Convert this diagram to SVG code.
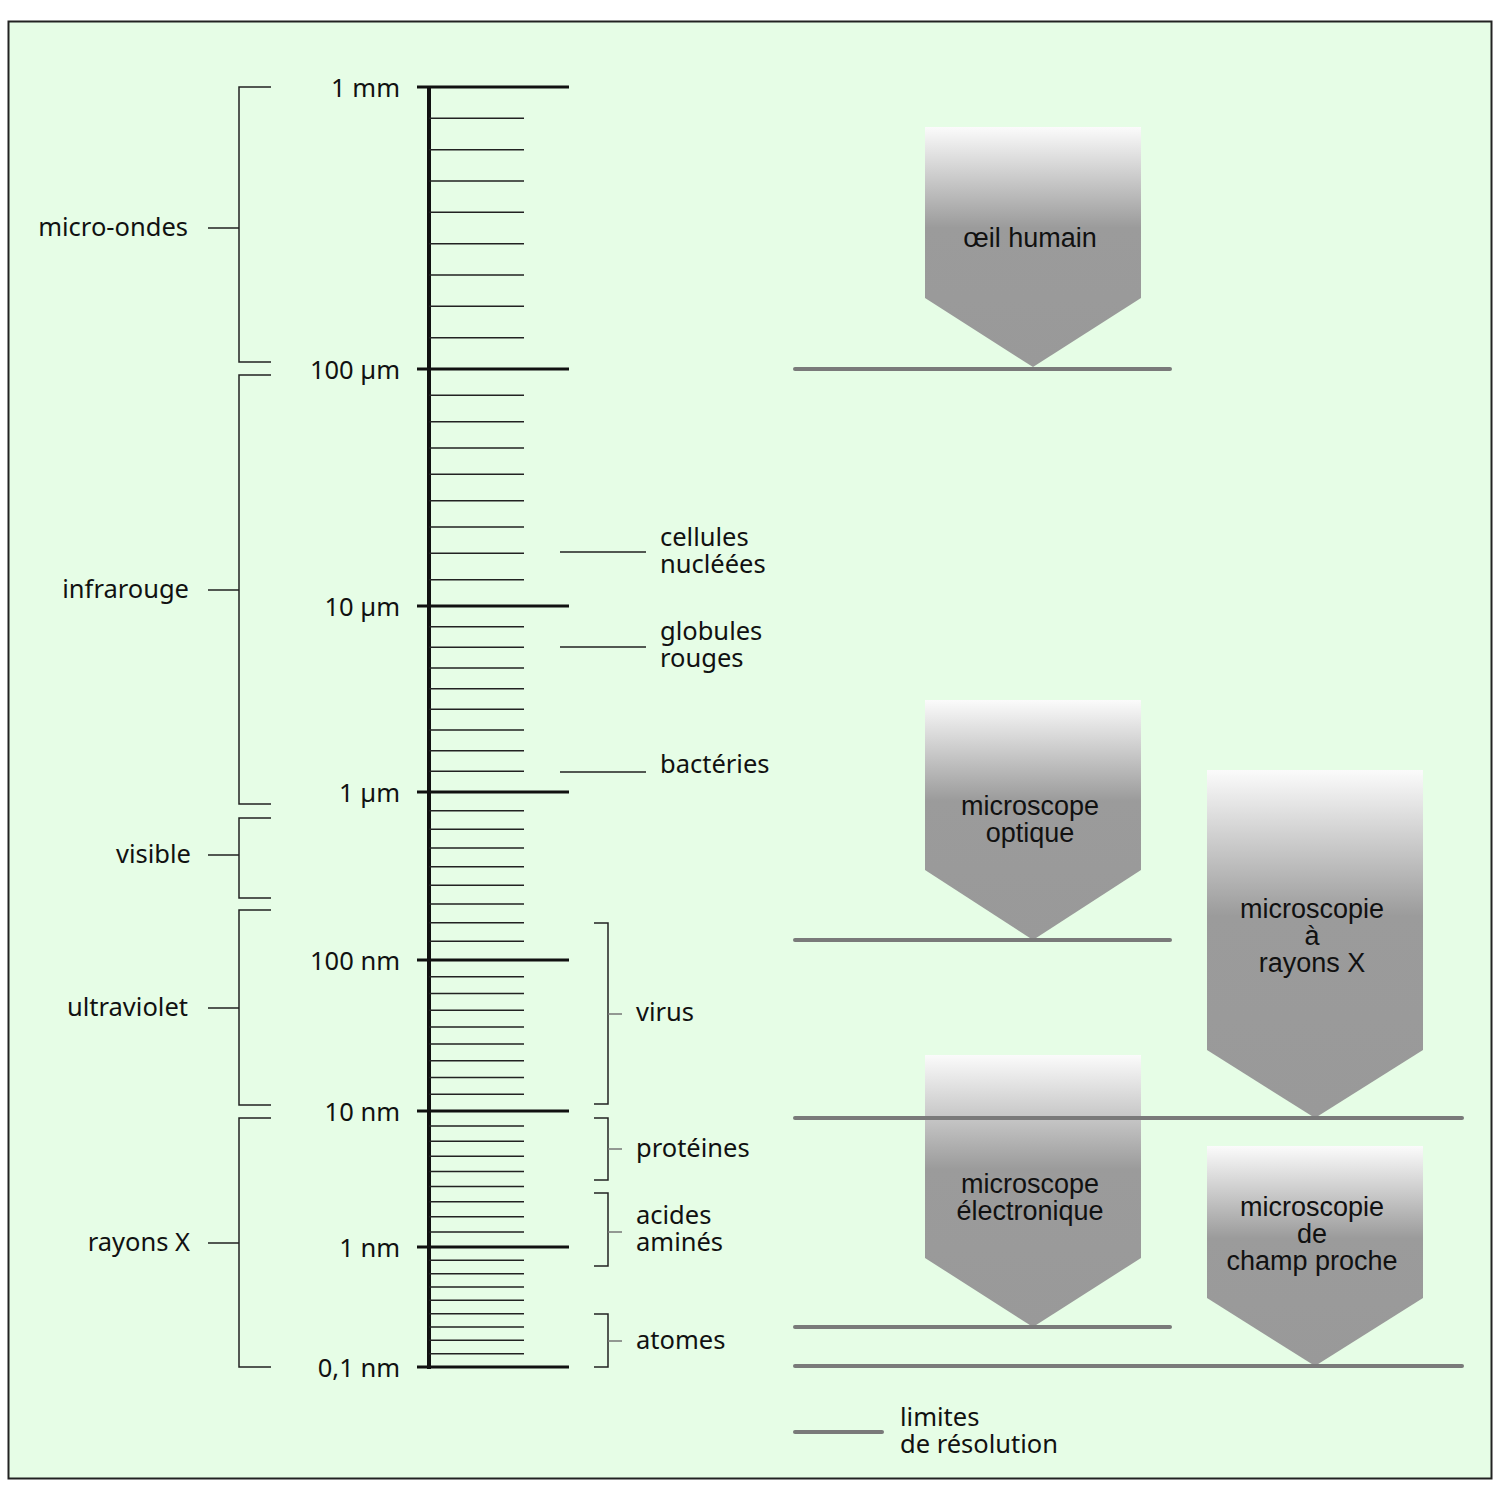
<svg xmlns="http://www.w3.org/2000/svg" width="1500" height="1500" viewBox="0 0 1500 1500">
<defs>
<linearGradient id="g" x1="0" y1="0" x2="0" y2="1">
<stop offset="0" stop-color="#fbfbfb"/>
<stop offset="0.42" stop-color="#9b9b9b"/>
<stop offset="1" stop-color="#999"/>
</linearGradient>
<style>
text{font-family:"Noto Sans","Open Sans","Liberation Sans",sans-serif;font-size:25.5px;fill:#111}
.ar text{font-family:"Liberation Sans",Arial,sans-serif;font-size:27px;text-anchor:middle}
.end{text-anchor:end}
.major{stroke:#111;stroke-width:3}
.minor{stroke:#222;stroke-width:1.5;fill:none}
.br{stroke:#222;stroke-width:1.5;fill:none}
.res{stroke:#7a7a7a;stroke-width:4;stroke-linecap:round}
.arrow{fill:url(#g)}
</style>
</defs>
<rect x="8.5" y="21.5" width="1483" height="1457" fill="#e6fde6" stroke="#222" stroke-width="2"/>

<g id="scale">
<line x1="429" y1="86" x2="429" y2="1369" stroke="#111" stroke-width="4"/>
<g class="major">
<line x1="417" y1="87" x2="569" y2="87"/>
<line x1="417" y1="369" x2="569" y2="369"/>
<line x1="417" y1="606" x2="569" y2="606"/>
<line x1="417" y1="792" x2="569" y2="792"/>
<line x1="417" y1="960" x2="569" y2="960"/>
<line x1="417" y1="1111" x2="569" y2="1111"/>
<line x1="417" y1="1247" x2="569" y2="1247"/>
<line x1="417" y1="1367" x2="569" y2="1367"/>
</g>
<path class="minor" d="M429 118.3H524M429 149.7H524M429 181H524M429 212.3H524M429 243.7H524M429 275H524M429 306.3H524M429 337.7H524
M429 395.3H524M429 421.7H524M429 448H524M429 474.3H524M429 500.7H524M429 527H524M429 553.3H524M429 579.7H524
M429 626.7H524M429 647.3H524M429 668H524M429 688.7H524M429 709.3H524M429 730H524M429 750.7H524M429 771.3H524
M429 810.7H524M429 829.3H524M429 848H524M429 866.7H524M429 885.3H524M429 904H524M429 922.7H524M429 941.3H524
M429 976.8H524M429 993.6H524M429 1010.3H524M429 1027.1H524M429 1043.9H524M429 1060.7H524M429 1077.4H524M429 1094.2H524
M429 1126.1H524M429 1141.2H524M429 1156.3H524M429 1171.4H524M429 1186.6H524M429 1201.7H524M429 1216.8H524M429 1231.9H524
M429 1260.3H524M429 1273.7H524M429 1287H524M429 1300.3H524M429 1313.7H524M429 1327H524M429 1340.3H524M429 1353.7H524"/>
<text class="end" x="400" y="97">1 mm</text>
<text class="end" x="400" y="379">100 µm</text>
<text class="end" x="400" y="616">10 µm</text>
<text class="end" x="400" y="802">1 µm</text>
<text class="end" x="400" y="970">100 nm</text>
<text class="end" x="400" y="1121">10 nm</text>
<text class="end" x="400" y="1257">1 nm</text>
<text class="end" x="400" y="1377">0,1 nm</text>
</g>

<g id="spectrum-labels">
<text class="end" x="188" y="236">micro-ondes</text>
<text class="end" x="189" y="598">infrarouge</text>
<text class="end" x="191" y="863">visible</text>
<text class="end" x="188" y="1016">ultraviolet</text>
<text class="end" x="190" y="1251">rayons X</text>
</g>

<g id="object-labels">
<text x="660" y="546">cellules</text>
<text x="660" y="573">nucléées</text>
<text x="660" y="640">globules</text>
<text x="660" y="667">rouges</text>
<text x="660" y="773">bactéries</text>
<text x="636" y="1021">virus</text>
<text x="636" y="1157">protéines</text>
<text x="636" y="1224">acides</text>
<text x="636" y="1251">aminés</text>
<text x="636" y="1349">atomes</text>
</g>

<g id="oeil" class="ar">
<polygon class="arrow" points="925,127 1141,127 1141,298 1033,367 925,298"/>
<text x="1030" y="247">œil humain</text>
</g>
<g id="optique" class="ar">
<polygon class="arrow" points="925,700 1141,700 1141,870 1033,940 925,870"/>
<text x="1030" y="815">microscope</text>
<text x="1030" y="842">optique</text>
</g>
<g id="rayonsx" class="ar">
<polygon class="arrow" points="1207,770 1423,770 1423,1050 1315,1118 1207,1050"/>
<text x="1312" y="918">microscopie</text>
<text x="1312" y="945">à</text>
<text x="1312" y="972">rayons X</text>
</g>
<g id="electronique" class="ar">
<polygon class="arrow" points="925,1055 1141,1055 1141,1258 1033,1327 925,1258"/>
<text x="1030" y="1193">microscope</text>
<text x="1030" y="1220">électronique</text>
</g>
<g id="champ" class="ar">
<polygon class="arrow" points="1207,1146 1423,1146 1423,1298 1315,1366 1207,1298"/>
<text x="1312" y="1216">microscopie</text>
<text x="1312" y="1243">de</text>
<text x="1312" y="1270">champ proche</text>
</g>

<g id="connectors">
<g class="br">
<path d="M271 87H239V362H271M208 228H239"/>
<path d="M271 375H239V804H271M208 590H239"/>
<path d="M271 818H239V898H271M208 855H239"/>
<path d="M271 910H239V1105H271M208 1008H239"/>
<path d="M271 1118H239V1367H271M208 1243H239"/>
<path d="M594 923H608V1104H594"/>
<path d="M594 1118H608V1180H594"/>
<path d="M594 1193H608V1266H594"/>
<path d="M594 1314H608V1367H594"/>
<path d="M560 552H646M560 647H646M560 772H646"/>
</g>
<path d="M608 1014H622M608 1149H622M608 1232H622M608 1341H622" stroke="#777" stroke-width="1.5"/>
<line class="res" x1="795" y1="369" x2="1170" y2="369"/>
<line class="res" x1="795" y1="940" x2="1170" y2="940"/>
<line class="res" x1="795" y1="1118" x2="1462" y2="1118"/>
<line class="res" x1="795" y1="1327" x2="1170" y2="1327"/>
<line class="res" x1="795" y1="1366" x2="1462" y2="1366"/>
<line class="res" x1="795" y1="1432" x2="882" y2="1432"/>
</g>

<g id="legend">
<text x="900" y="1426">limites</text>
<text x="900" y="1453">de résolution</text>
</g>
</svg>
